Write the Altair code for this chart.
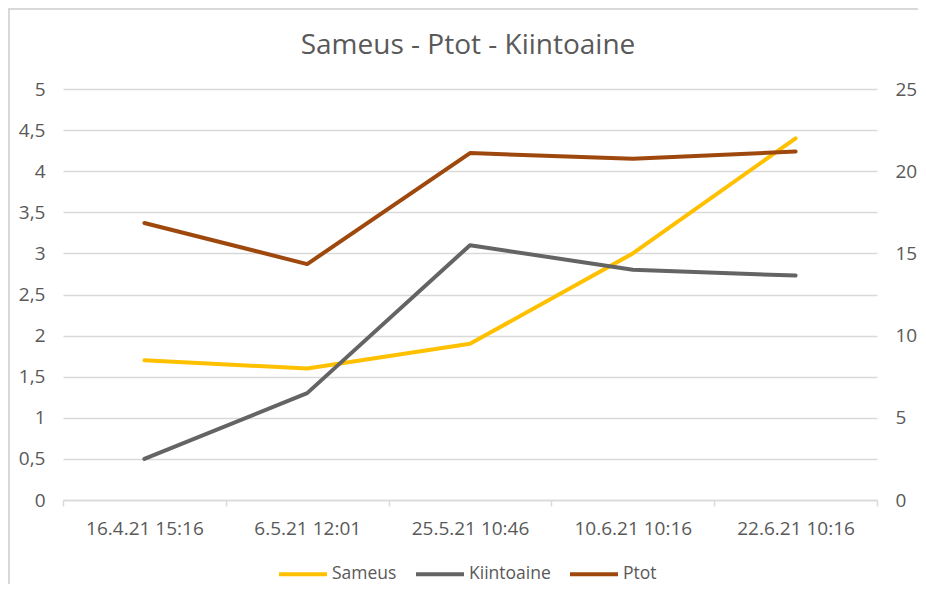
import altair as alt
import pandas as pd

# ---- data ----
dates = ["16.4.21 15:16", "6.5.21 12:01", "25.5.21 10:46", "10.6.21 10:16", "22.6.21 10:16"]
sameus = [1.7, 1.6, 1.9, 3.0, 4.4]            # left axis (0-5)
kiintoaine = [2.5, 6.5, 15.5, 14.0, 13.65]    # right axis (0-25)
ptot = [16.85, 14.35, 21.1, 20.75, 21.2]      # right axis (0-25)
series_names = ["Sameus", "Kiintoaine", "Ptot"]
series_colors = ["#FFC000", "#646464", "#9E480E"]
left_ticks = [0, 0.5, 1, 1.5, 2, 2.5, 3, 3.5, 4, 4.5, 5]
right_ticks = [0, 5, 10, 15, 20, 25]
chart_title = "Sameus - Ptot - Kiintoaine"

rows = []
for name, vals in zip(series_names, [sameus, kiintoaine, ptot]):
    for d, v in zip(dates, vals):
        rows.append({"date": d, "series": name, "value": v})
df = pd.DataFrame(rows)

FONT = "Open Sans"
TXT = "#595959"
GRID = "#d9d9d9"
W, H = 814, 411

color = alt.Color(
    "series:N",
    scale=alt.Scale(domain=series_names, range=series_colors),
    legend=alt.Legend(
        title=None, orient="none", direction="horizontal",
        legendX=214, legendY=459,
        symbolType="stroke", symbolSize=2304, symbolStrokeWidth=4,
        labelFont=FONT, labelFontSize=17.5, labelColor=TXT,
        labelOffset=3, columnPadding=11, padding=0,
    ),
)

xenc = alt.X(
    "date:N", sort=dates, title=None,
    scale=alt.Scale(paddingInner=0, paddingOuter=0),
    axis=alt.Axis(
        labelAngle=0, labelFont=FONT, labelFontSize=19, labelColor=TXT,
        domainColor=GRID, domainWidth=1.5, tickColor=GRID, tickWidth=1.5,
        tickSize=6, tickBand="extent", labelPadding=13, grid=False,
    ),
)

base = alt.Chart(df)

left = base.transform_filter(alt.datum.series == "Sameus").mark_line(
    strokeWidth=4, strokeCap="round", strokeJoin="round"
).encode(
    x=xenc,
    y=alt.Y(
        "value:Q", title=None,
        scale=alt.Scale(domain=[0, 5], nice=False),
        axis=alt.Axis(
            orient="left", values=left_ticks, domain=False, ticks=False,
            labelFont=FONT, labelFontSize=19, labelColor=TXT, labelPadding=18,
            labelExpr="replace(toString(datum.value), '.', ',')",
            grid=True, gridColor=GRID, gridWidth=1.5,
        ),
    ),
    color=color,
)

right = base.transform_filter(alt.datum.series != "Sameus").mark_line(
    strokeWidth=4, strokeCap="round", strokeJoin="round"
).encode(
    x=xenc,
    y=alt.Y(
        "value:Q", title=None,
        scale=alt.Scale(domain=[0, 25], nice=False),
        axis=alt.Axis(
            orient="right", values=right_ticks, domain=False, ticks=False,
            labelFont=FONT, labelFontSize=19, labelColor=TXT, labelPadding=18,
            grid=False,
        ),
    ),
    color=color,
)

deco = alt.Chart(alt.Data(values=[{}]))

frame = deco.mark_rect(
    fill=None, stroke=GRID, strokeWidth=2, clip=False
).encode(
    x=alt.value(-54), x2=alt.value(W + 60),
    y=alt.value(-80), y2=alt.value(513),
)

title = deco.mark_text(
    font=FONT, fontSize=28, color=TXT, align="center", baseline="alphabetic"
).encode(
    x=alt.value(W / 2 - 2), y=alt.value(-35), text=alt.value(chart_title),
)

chart = alt.layer(frame, title, left, right).resolve_scale(y="independent").properties(
    width=W, height=H,
    autosize=alt.AutoSizeParams(type="none"),
    padding={"left": 55, "top": 81, "right": 41, "bottom": 84},
).configure_view(stroke=None)

chart.save("out.html", embed_options={"renderer": "svg", "actions": False})
